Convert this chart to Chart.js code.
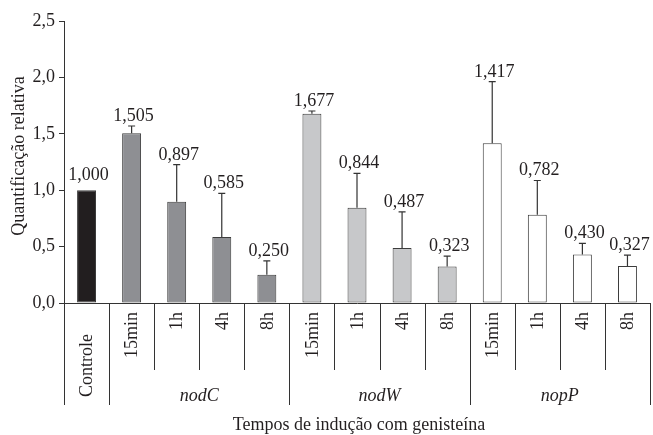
<!DOCTYPE html>
<html>
<head>
<meta charset="utf-8">
<script src="https://cdn.jsdelivr.net/npm/chart.js@4/dist/chart.umd.min.js"></script>
<style>
html,body{margin:0;padding:0;background:#fff;}
#wrap{width:653px;height:435px;position:relative;}
</style>
</head>
<body>
<div id="wrap"><canvas id="c" width="653" height="435"></canvas></div>
<script>
// ---- data ----
const categories = ["Controle","15min","1h","4h","8h","15min","1h","4h","8h","15min","1h","4h","8h"];
const categoryGroup = [-1,0,0,0,0,1,1,1,1,2,2,2,2];
const groups = ["nodC","nodW","nopP"];
const values = [1.000,1.505,0.897,0.585,0.250,1.677,0.844,0.487,0.323,1.417,0.782,0.430,0.327];
const errors = [0,0.064,0.330,0.386,0.124,0.025,0.306,0.321,0.093,0.545,0.304,0.098,0.098];
const yTicks = [0,0.5,1.0,1.5,2.0,2.5];
const yTitle = "Quantificação relativa";
const xTitle = "Tempos de indução com genisteína";

// ---- styles ----
const FONT = "'Liberation Serif','Times New Roman',serif";
const INK = "#231f20";
const controlColor = "#221e1f";
const groupColors = ["#8e8f93","#c7c8ca","#ffffff"];
const fmt = v => v.toFixed(3).replace('.', ',');

const barColors = categoryGroup.map(g => g < 0 ? controlColor : groupColors[g]);

const decor = {
  id: 'decor',
  afterDatasetsDraw(chart) {
    const ctx = chart.ctx;
    const ys = chart.scales.y;
    const meta = chart.getDatasetMeta(0);
    ctx.save();
    meta.data.forEach((bar, i) => {
      const x = bar.x;
      const top = ys.getPixelForValue(values[i] + errors[i]);
      if (errors[i] > 0) {
        ctx.strokeStyle = "#333";
        ctx.lineWidth = 1.2;
        ctx.beginPath();
        ctx.moveTo(x, bar.y);
        ctx.lineTo(x, top);
        ctx.moveTo(x - 3.5, top);
        ctx.lineTo(x + 3.5, top);
        ctx.stroke();
      }
      ctx.fillStyle = INK;
      ctx.font = "18px " + FONT;
      ctx.textAlign = "center";
      ctx.textBaseline = "alphabetic";
      ctx.fillText(fmt(values[i]), x + 2, Math.min(top, bar.y) - (errors[i] > 0 ? 5 : 10));
    });
    ctx.restore();
  },
  afterDraw(chart) {
    const ctx = chart.ctx;
    const xs = chart.scales.x;
    const area = chart.chartArea;
    const y0 = area.bottom;
    const n = categories.length;
    const step = (xs.getPixelForValue(1) - xs.getPixelForValue(0));
    ctx.save();
    ctx.strokeStyle = "#333";
    ctx.lineWidth = 1;
    for (let k = 0; k <= n; k++) {
      const bx = Math.round(xs.getPixelForValue(0) - step / 2 + k * step) + 0.5;
      const left = k > 0 ? categoryGroup[k - 1] : null;
      const right = k < n ? categoryGroup[k] : null;
      const long = left === null || right === null || left !== right || left < 0;
      ctx.beginPath();
      ctx.moveTo(bx, y0);
      ctx.lineTo(bx, long ? y0 + 102 : y0 + 67);
      ctx.stroke();
    }
    ctx.fillStyle = INK;
    ctx.font = "18px " + FONT;
    categories.forEach((c, i) => {
      const x = xs.getPixelForValue(i);
      ctx.save();
      ctx.translate(x + 1, categoryGroup[i] < 0 ? y0 + 94 : y0 + 9);
      ctx.rotate(-Math.PI / 2);
      ctx.textBaseline = "middle";
      ctx.textAlign = categoryGroup[i] < 0 ? "left" : "right";
      ctx.fillText(c, 0, 0);
      ctx.restore();
    });
    ctx.font = "italic 18px " + FONT;
    ctx.textAlign = "center";
    ctx.textBaseline = "alphabetic";
    groups.forEach((g, gi) => {
      const idx = categoryGroup.map((v, i) => v === gi ? i : -1).filter(i => i >= 0);
      const cx = (xs.getPixelForValue(idx[0]) + xs.getPixelForValue(idx[idx.length - 1])) / 2;
      ctx.fillText(g, cx, y0 + 98);
    });
    ctx.font = "18px " + FONT;
    ctx.fillText(xTitle, (area.left + area.right) / 2 + 2, 430);
    ctx.save();
    ctx.translate(19, (area.top + area.bottom) / 2 - 6);
    ctx.rotate(-Math.PI / 2);
    ctx.textAlign = "center";
    ctx.textBaseline = "middle";
    ctx.fillText(yTitle, 0, 0);
    ctx.restore();
    ctx.restore();
  }
};

new Chart(document.getElementById('c'), {
  type: 'bar',
  data: {
    labels: categories,
    datasets: [{
      data: values,
      backgroundColor: barColors,
      borderColor: "#3c3c3c",
      borderWidth: 1,
      borderSkipped: false,
      categoryPercentage: 1.0,
      barPercentage: 0.42
    }]
  },
  options: {
    responsive: false,
    animation: false,
    devicePixelRatio: 1,
    layout: { padding: { top: 21, right: 3, left: 0, bottom: 0 } },
    plugins: { legend: { display: false }, tooltip: { enabled: false } },
    scales: {
      x: {
        grid: { display: false },
        border: { display: true, color: "#333", width: 1 },
        ticks: { display: false },
        afterFit(s) { s.height = 132; }
      },
      y: {
        min: 0, max: 2.5,
        afterBuildTicks(s) { s.ticks = yTicks.map(v => ({ value: v })); },
        ticks: {
          font: { family: FONT, size: 18 },
          color: INK,
          padding: 4,
          callback: v => v.toFixed(1).replace('.', ',')
        },
        grid: { display: true, drawOnChartArea: false, drawTicks: true, tickLength: 5, color: "#333" },
        border: { display: true, color: "#333", width: 1 },
        afterFit(s) { s.width = 64; }
      }
    }
  },
  plugins: [decor]
});
</script>
</body>
</html>
